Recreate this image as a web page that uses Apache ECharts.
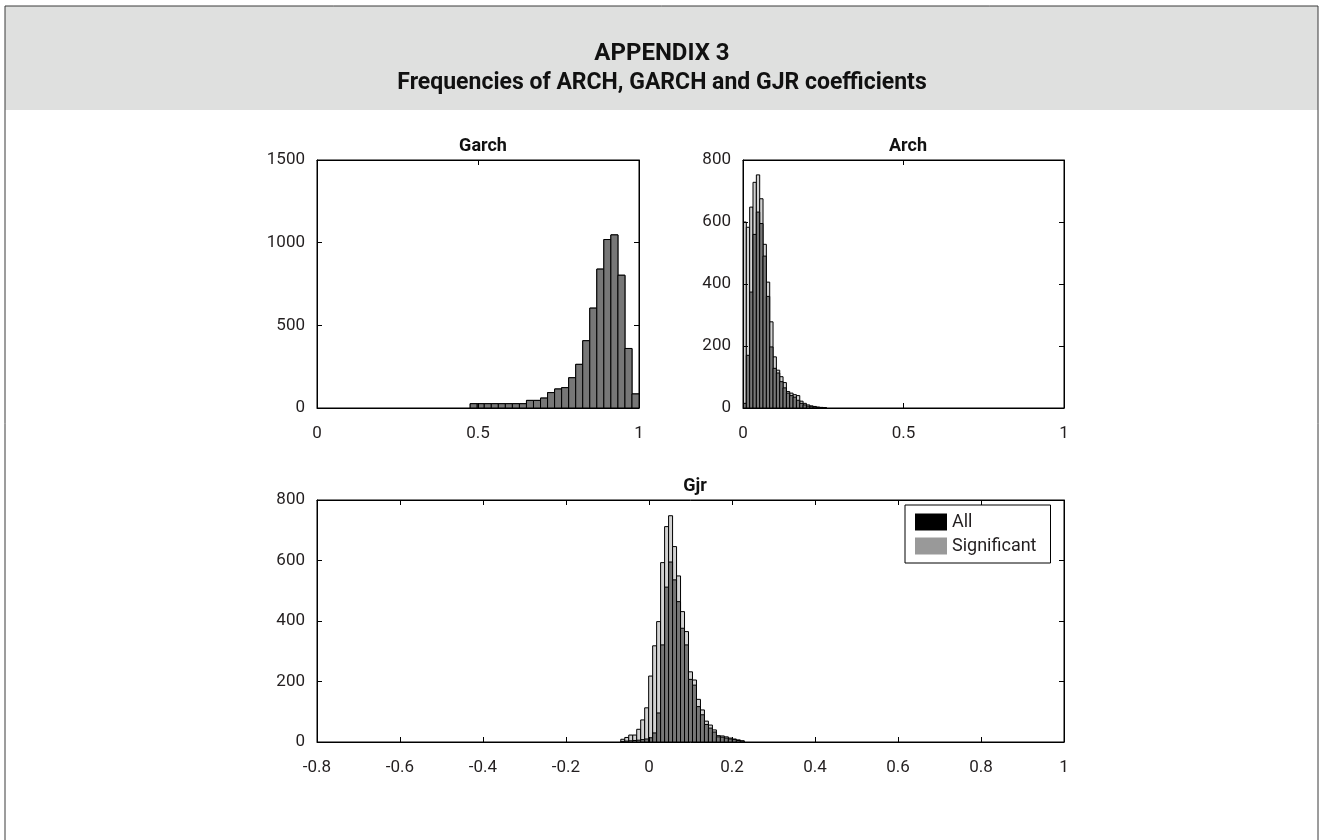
<!DOCTYPE html>
<html>
<head>
<meta charset="utf-8">
<script src="https://cdn.jsdelivr.net/npm/echarts@6/dist/echarts.min.js"></script>
<style>
html,body{margin:0;padding:0;background:#fff;}
#c{width:1324px;height:840px;}
</style>
</head>
<body>
<div id="c"></div>
<script>
// ---------- DATA ----------
const legendNames = ['All', 'Significant'];

const garchStart = 0.4757, garchWidth = 0.02185;
const garchAll = [26,26,26,26,26,26,26,26,46,46,60,93,115,123,183,264,407,604,840,1019,1047,803,360,85];
const garchSig = [26,26,26,26,26,26,26,26,46,46,60,93,115,123,183,264,407,604,840,1019,1047,803,360,85];

const archStart = 0, archWidth = 0.0104;
const archAll = [600,583,648,728,752,675,528,406,278,165,122,101,82,53,48,43,40,22,15,10,7,5,3,2,1];
const archSig = [15,170,374,560,632,595,490,360,197,128,113,85,65,48,40,35,25,15,10,6,4,3,2,1,1];

const gjrStart = -0.068, gjrWidth = 0.0096;
const gjrAll = [9,15,23,23,42,73,113,218,318,398,593,712,748,646,549,431,365,232,205,141,106,69,56,40,21,20,17,13,10,7,4];
const gjrSig = [2,3,4,5,6,8,10,14,30,96,321,512,595,536,464,376,321,207,188,117,90,58,46,33,17,16,13,10,8,5,3];

const garchXTicks = {min:0, max:1, interval:0.5};
const archXTicks = {min:0, max:1, interval:0.5};
const gjrXTicks = {min:-0.8, max:1, interval:0.2};
const garchYTicks = {min:0, max:1500, interval:500};
const archYTicks = {min:0, max:800, interval:200};
const gjrYTicks = {min:0, max:800, interval:200};

// ---------- STYLE ----------
const FONT = 'Roboto';
const LIGHT = '#d2d2d2';
const DARK = '#777777';

function bins(start, width, counts){
  return counts.map((c,i)=>[start + i*width, start + (i+1)*width, c]);
}
function render(fill){
  return function(params, api){
    const p0 = api.coord([api.value(0), api.value(2)]);
    const p1 = api.coord([api.value(1), 0]);
    return {type:'rect', shape:{x:p0[0], y:p0[1], width:p1[0]-p0[0], height:p1[1]-p0[1]},
      style:{fill:fill, stroke:'#000', lineWidth:1}};
  };
}
const labelStyle = {fontFamily:FONT, fontSize:17, color:'#231f20'};
function fmt(v){ return String(Math.round(v*10)/10); }
function xAxes(gi, t){
  return [
    {type:'value', gridIndex:gi, position:'bottom', min:t.min, max:t.max, interval:t.interval, z:10,
     axisLine:{show:true, onZero:false, lineStyle:{color:'#000', width:1}},
     axisTick:{show:true, inside:true, length:5, lineStyle:{color:'#000'}},
     axisLabel:Object.assign({margin:17, formatter:fmt}, labelStyle),
     splitLine:{show:false}},
    {type:'value', gridIndex:gi, position:'top', min:t.min, max:t.max, interval:t.interval, z:10,
     axisLine:{show:true, onZero:false, lineStyle:{color:'#000', width:1}},
     axisTick:{show:true, inside:true, length:5, lineStyle:{color:'#000'}},
     axisLabel:{show:false}, splitLine:{show:false}}
  ];
}
function yAxes(gi, t){
  return [
    {type:'value', gridIndex:gi, position:'left', min:t.min, max:t.max, interval:t.interval, z:10,
     axisLine:{show:true, onZero:false, lineStyle:{color:'#000', width:1}},
     axisTick:{show:true, inside:true, length:5, lineStyle:{color:'#000'}},
     axisLabel:Object.assign({margin:12, formatter:v=>String(v)}, labelStyle),
     splitLine:{show:false}},
    {type:'value', gridIndex:gi, position:'right', min:t.min, max:t.max, interval:t.interval, z:10,
     axisLine:{show:true, onZero:false, lineStyle:{color:'#000', width:1}},
     axisTick:{show:true, inside:true, length:5, lineStyle:{color:'#000'}},
     axisLabel:{show:false}, splitLine:{show:false}}
  ];
}
function histSeries(name, gi, data, fill){
  return {type:'custom', name:name, xAxisIndex:gi*2, yAxisIndex:gi*2,
    itemStyle:{color:fill}, renderItem:render(fill),
    encode:{x:[0,1], y:2}, data:data, clip:true, silent:true};
}

const chart = echarts.init(document.getElementById('c'), null, {renderer:'canvas'});
const option = {
  animation:false,
  backgroundColor:'#fff',
  graphic:[
    {type:'rect', shape:{x:5, y:6, width:1313, height:104}, style:{fill:'#dfe0df'}, z:-10},
    {type:'rect', shape:{x:5, y:6, width:1313, height:840}, style:{fill:'none', stroke:'#3a3a3a', lineWidth:1}, z:-9}
  ],
  title:[
    {text:'APPENDIX 3', left:'center', top:37, textStyle:{fontFamily:FONT, fontSize:24, fontWeight:'bold', color:'#111'}},
    {text:'Frequencies of ARCH, GARCH and GJR coefficients', left:'center', top:67, textStyle:{fontFamily:FONT, fontSize:23, fontWeight:'bold', color:'#111'}},
    {text:'Garch', left:478, top:132, textAlign:'center', textStyle:{fontFamily:FONT, fontSize:18, fontWeight:'bold', color:'#111'}},
    {text:'Arch', left:903, top:132, textAlign:'center', textStyle:{fontFamily:FONT, fontSize:18, fontWeight:'bold', color:'#111'}},
    {text:'Gjr', left:690, top:472, textAlign:'center', textStyle:{fontFamily:FONT, fontSize:18, fontWeight:'bold', color:'#111'}}
  ],
  legend:{
    orient:'vertical', left:905, top:505, icon:'rect', itemWidth:32, itemHeight:17, itemGap:6,
    padding:[8,14,8,10], borderColor:'#000', borderWidth:1, backgroundColor:'#fff',
    textStyle:{fontFamily:FONT, fontSize:18, color:'#231f20'},
    data:[{name:'All', itemStyle:{color:'#000'}}, {name:'Significant', itemStyle:{color:'#999'}}],
    selectedMode:false
  },
  grid:[
    {left:317, top:160, width:322, height:248, show:true, borderColor:'#000', borderWidth:1, backgroundColor:'#fff'},
    {left:743, top:160, width:321, height:248, show:true, borderColor:'#000', borderWidth:1, backgroundColor:'#fff'},
    {left:317, top:500, width:747, height:242, show:true, borderColor:'#000', borderWidth:1, backgroundColor:'#fff'}
  ],
  xAxis:[].concat(xAxes(0, garchXTicks), xAxes(1, archXTicks), xAxes(2, gjrXTicks)),
  yAxis:[].concat(yAxes(0, garchYTicks), yAxes(1, archYTicks), yAxes(2, gjrYTicks)),
  series:[
    histSeries(legendNames[0], 0, bins(garchStart, garchWidth, garchAll), LIGHT),
    histSeries(legendNames[1], 0, bins(garchStart, garchWidth, garchSig), DARK),
    histSeries(legendNames[0], 1, bins(archStart, archWidth, archAll), LIGHT),
    histSeries(legendNames[1], 1, bins(archStart, archWidth, archSig), DARK),
    histSeries(legendNames[0], 2, bins(gjrStart, gjrWidth, gjrAll), LIGHT),
    histSeries(legendNames[1], 2, bins(gjrStart, gjrWidth, gjrSig), DARK)
  ]
};
chart.setOption(option);
</script>
</body>
</html>
